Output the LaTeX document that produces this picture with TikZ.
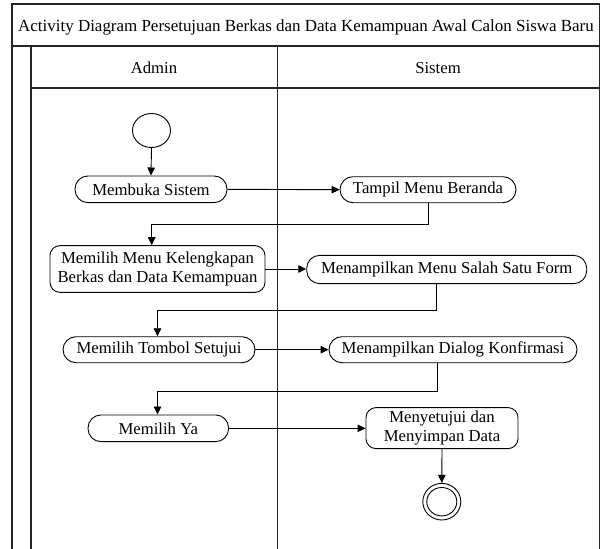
\documentclass[tikz,border=0pt]{standalone}
\usepackage{fontspec}
\setmainfont{Liberation Serif}
\usetikzlibrary{arrows.meta,shapes.geometric}
\begin{document}
\begin{tikzpicture}[x=1pt,y=-1pt,
  frame/.style={draw=black!85,line width=1.1pt},
  act/.style={draw,line width=0.9pt,rounded corners=#1,inner sep=0pt,align=center,
    font=\fontsize{16.7}{18.7}\selectfont},
  act/.default=13pt,
  lbl/.style={font=\fontsize{16.7}{18.7}\selectfont,inner sep=0pt},
  arr/.style={line width=0.9pt,-{Triangle[length=8pt,width=7.5pt]}},
  ln/.style={line width=0.9pt}]
\useasboundingbox (0,0) rectangle (603,549);
% frame
\draw[frame] (12,549) -- (12,4) -- (599.3,4) -- (599.3,549);
\draw[frame] (12,46) -- (599.3,46);
\draw[frame] (31,549) -- (31,46);
\draw[frame] (31,88) -- (599.3,88);
\draw[frame] (277.7,46) -- (277.7,549);
\node[lbl,font=\fontsize{16.95}{19}\selectfont] (title) at (306,27) {Activity Diagram Persetujuan Berkas dan Data Kemampuan Awal Calon Siswa Baru};
\node[lbl] (admin) at (154,68) {Admin};
\node[lbl] (sistem) at (438,68) {Sistem};
% nodes
\node[draw,ellipse,line width=0.9pt,minimum width=38pt,minimum height=34pt,inner sep=0pt] (start) at (151.5,130.5) {};
\node[act,minimum width=152pt,minimum height=26.7pt] (n1) at (151,189.3) {Membuka Sistem};
\node[act,minimum width=176pt,minimum height=26pt] (n2) at (428,189.7) {Tampil Menu Beranda};
\node[act=10pt,minimum width=215pt,minimum height=46.7pt] (n3) at (157.5,269) {Memilih Menu Kelengkapan\\Berkas dan Data Kemampuan};
\node[act,minimum width=280pt,minimum height=28.3pt] (n4) at (446.7,269.5) {Menampilkan Menu Salah Satu Form};
\node[act,minimum width=192pt,minimum height=26pt] (n5) at (159,349.7) {Memilih Tombol Setujui};
\node[act,minimum width=248pt,minimum height=26pt] (n6) at (453,349.7) {Menampilkan Dialog Konfirmasi};
\node[act,minimum width=140.6pt,minimum height=26.7pt] (n7) at (158.3,428.3) {Memilih Ya};
\node[act=10pt,minimum width=152pt,minimum height=41pt] (n8) at (442,428.1) {Menyetujui dan\\Menyimpan Data};
\node[draw,ellipse,line width=0.9pt,minimum width=38pt,minimum height=36.6pt,inner sep=0pt] (end) at (441.8,501.7) {};
\node[draw,ellipse,line width=0.9pt,minimum width=30pt,minimum height=28.4pt,inner sep=0pt] (endin) at (441.8,501.7) {};
% connectors
\draw[arr] (start.south) -- (n1.north);
\draw[arr] (n1.east) -- (n2.west);
\coordinate (c1) at (151.7,224);
\draw[arr] (n2.south) |- (c1) -- (c1 |- n3.north);
\draw[arr] (n3.east) -- (n3.east -| n4.west);
\coordinate (c2a) at (436,310);
\coordinate (c2) at (157.5,310);
\draw[arr] (c2a |- n4.south) -- (c2a) -- (c2) -- (c2 |- n5.north);
\draw[arr] (n5.east) -- (n6.west);
\coordinate (c3a) at (437.5,391);
\coordinate (c3) at (157.5,391);
\draw[arr] (c3a |- n6.south) -- (c3a) -- (c3) -- (c3 |- n7.north);
\draw[arr] (n7.east) -- (n7.east -| n8.west);
\draw[arr] (n8.south) -- (end.north);
\end{tikzpicture}
\end{document}
